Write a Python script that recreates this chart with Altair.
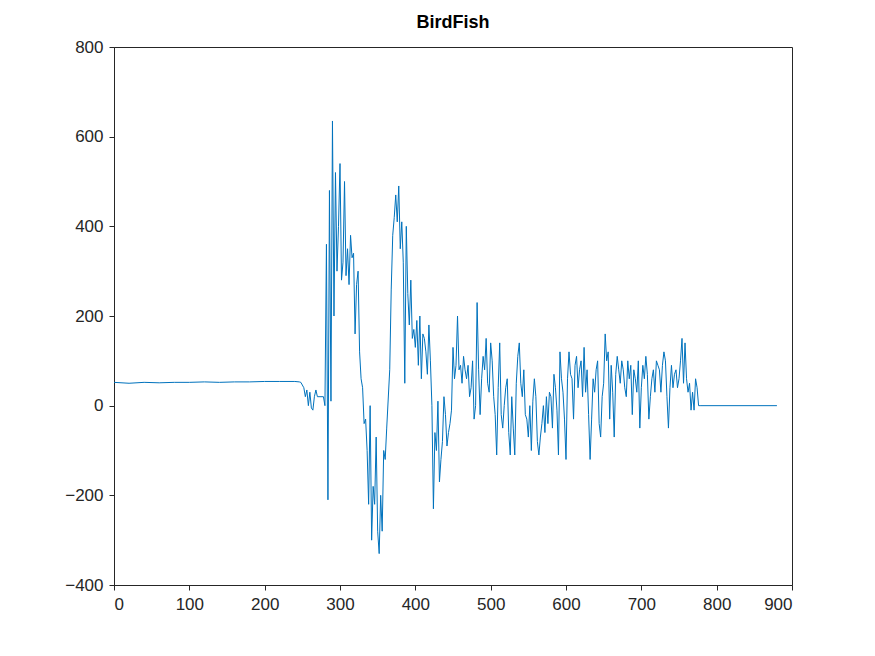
import altair as alt
import pandas as pd

# sample positions and values
xs = [0, 20, 40, 60, 80, 100, 120, 140, 160, 180, 200, 220, 240, 246,
      248, 252, 254, 256, 258, 260, 262, 264, 266, 268, 270, 278, 280,
      282, 284, 286, 288, 290, 292, 294, 296, 298, 300, 302, 304, 306, 308,
      310, 312, 314, 316, 318, 320, 322, 324, 326, 328, 330, 332, 334, 336,
      338, 340, 342, 344, 346, 348, 350, 352, 354, 356, 358, 360, 362, 366,
      368, 370, 372, 374, 376, 378, 380, 382, 384, 386, 388, 390, 392, 394,
      396, 398, 400, 402, 404, 406, 408, 410, 412, 414, 416, 418, 420, 422,
      424, 426, 428, 430, 432, 434, 436, 438, 440, 442, 444, 446, 448, 450,
      452, 454, 456, 458, 460, 462, 464, 466, 468, 470, 472, 474, 476, 478,
      480, 482, 484, 486, 488, 490, 492, 494, 496, 498, 500, 502, 504, 506,
      508, 510, 512, 514, 516, 518, 520, 522, 524, 526, 528, 530, 532, 534,
      536, 538, 540, 542, 544, 546, 548, 550, 552, 554, 556, 558, 560, 562,
      564, 566, 568, 570, 572, 574, 576, 578, 580, 582, 584, 586, 588, 590,
      592, 594, 596, 598, 600, 602, 604, 606, 608, 610, 612, 614, 616, 618,
      620, 622, 624, 626, 628, 630, 632, 634, 636, 638, 640, 642, 644, 646,
      648, 650, 652, 654, 656, 658, 660, 662, 664, 666, 668, 670, 672, 674,
      676, 678, 680, 682, 684, 686, 688, 690, 692, 694, 696, 698, 700, 702,
      704, 706, 708, 710, 712, 714, 716, 718, 720, 722, 724, 726, 728, 730,
      732, 734, 736, 738, 740, 742, 744, 746, 748, 750, 752, 754, 756, 758,
      760, 762, 764, 766, 768, 770, 772, 774, 776, 778, 880]
ys = [52, 50, 52, 51, 52, 52, 53, 52, 53, 53, 54, 54, 54, 53,
      52, 40, 20, 35, 0, 30, -5, -10, 20, 35, 20, 20, 0,
      360, -210, 480, 10, 635, 200, 520, 300, 400, 540, 280, 320, 500, 290,
      350, 270, 380, 330, 340, 160, 270, 300, 120, 60, 40, -40, -30, -100,
      -220, 0, -300, -180, -220, -70, -280, -330, -200, -280, -100, -120, -50, 80,
      260, 380, 420, 470, 410, 490, 350, 410, 320, 50, 400, 250, 180, 280,
      150, 170, 130, 190, 90, 200, 60, 160, 150, 120, 70, 180, 100, 0,
      -230, -60, -100, 10, -170, -120, -80, 20, -20, -90, -60, -40, -10, 130,
      60, 90, 200, 80, 90, 50, 110, 80, 60, 90, 20, 40, 100, -30,
      0, 230, 80, -20, 60, 110, 80, 150, 50, 30, 140, 100, 20, -20,
      -110, 40, 140, -20, -50, 0, 40, 60, -60, -110, 20, -50, -110, 50,
      110, 140, 50, 20, 80, -20, -30, -70, 0, -100, 10, 60, 20, -80,
      -110, -70, -40, 0, -60, 20, -40, 30, 20, -50, 70, 40, -10, -110,
      120, 60, 30, -30, -120, 60, 120, 70, 60, -30, 90, 110, 40, 80,
      100, 20, 130, 30, 80, -20, -120, -30, 60, 30, 80, 100, -40, -70,
      20, 50, 160, 100, 120, -30, 90, 30, -70, 70, 110, 80, 50, 100,
      80, 40, 20, 100, 60, 90, -20, 80, 60, 30, 100, -50, 40, 90,
      60, 110, 70, -30, 20, 60, 80, 30, 100, 90, 80, 30, 90, 120,
      100, 20, -50, 40, 90, 40, 70, 80, 40, 60, 100, 150, 50, 140,
      60, 30, 50, -10, 30, -10, 60, 40, 0, 0, 0]

df = pd.DataFrame({"x": xs, "y": ys})

font = "Liberation Sans"
axis_common = dict(grid=False, domainColor="#262626", tickColor="#262626",
                   labelColor="#262626", labelFont=font, labelFontSize=17,
                   tickSize=5, labelPadding=6, title=None)

chart = alt.Chart(df).mark_line(color="#0072BD", strokeWidth=1).encode(
    x=alt.X("x:Q", scale=alt.Scale(domain=[0, 900], nice=False),
            axis=alt.Axis(values=list(range(0, 901, 100)), **axis_common)),
    y=alt.Y("y:Q", scale=alt.Scale(domain=[-400, 800], nice=False),
            axis=alt.Axis(values=list(range(-400, 801, 200)), **axis_common)),
).properties(
    width=678,
    height=538,
    title=alt.TitleParams("BirdFish", font=font, fontSize=18, fontWeight="bold",
                          color="#000000", offset=6),
    autosize=alt.AutoSizeParams(type="none"),
    padding={"left": 106, "top": 39, "right": 60, "bottom": 50},
).configure_view(stroke="#262626", strokeWidth=1)

chart.save("out.html", embed_options={"renderer": "svg", "actions": False})
